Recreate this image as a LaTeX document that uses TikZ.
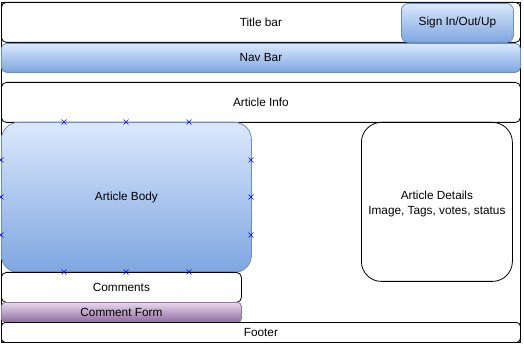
\documentclass[tikz,border=0pt]{standalone}
\usepackage{fontspec}
\setmainfont{Liberation Sans}
\usetikzlibrary{shapes.misc}
\definecolor{blueTop}{HTML}{DAE8FC}
\definecolor{blueBot}{HTML}{7EA6E0}
\definecolor{blueLine}{HTML}{6C8EBF}
\definecolor{purpTop}{HTML}{E6D8EC}
\definecolor{purpBot}{HTML}{8F6AA0}
\definecolor{purpLine}{HTML}{9673A6}
\definecolor{markBlue}{HTML}{0000FF}
\tikzset{
  box/.style={draw=black, line width=0.8pt, fill=white, rectangle,
    anchor=north west, inner sep=0pt, font=\fontsize{11.8}{14}\selectfont, align=center},
  bluebox/.style={box, draw=blueLine, top color=blueTop, bottom color=blueBot},
  purplebox/.style={box, draw=purpLine, top color=purpTop, bottom color=purpBot},
  caption/.style={inner sep=0pt, font=\fontsize{11.8}{15}\selectfont, align=center},
  handle/.style={cross out, draw=markBlue, line width=0.5pt, minimum size=4.5pt, inner sep=0pt}
}
\begin{document}
\begin{tikzpicture}[x=1pt, y=-1pt]
  \useasboundingbox (0,0) rectangle (524,344);
  % page frame
  \draw[line width=0.8pt] (1,2) rectangle (520,342);
  % header
  \node[box, rounded corners=5pt, minimum width=519pt, minimum height=40pt] (title) at (1,2) {Title bar};
  \node[bluebox, rounded corners=7pt, minimum width=112pt, minimum height=39pt] (sign) at (401,3) {Sign In/Out/Up};
  \node[bluebox, rounded corners=5pt, minimum width=519pt, minimum height=29pt] (nav) at (1,43) {Nav Bar};
  \node[box, rounded corners=5pt, minimum width=519pt, minimum height=40pt] (info) at (1,82) {Article Info};
  % content
  \node[bluebox, rounded corners=17pt, minimum width=250pt, minimum height=150pt] (body) at (1,122) {Article Body};
  \node[box, rounded corners=20pt, minimum width=151pt, minimum height=159pt] (details) at (361,122) {};
  \node[caption] (detailsText) at ([yshift=-2pt]details.center) {Article Details\\Image, Tags, votes, status};
  \node[box, rounded corners=5pt, minimum width=240pt, minimum height=30pt] (comments) at (1,272) {Comments};
  \node[purplebox, rounded corners=4pt, minimum width=240pt, minimum height=20pt] (form) at (1,302) {Comment Form};
  \node[box, rounded corners=4pt, minimum width=519pt, minimum height=20pt] (footer) at (1,322) {Footer};
  % connection handles around the article body
  \foreach \px [count=\i] in {64,126,189} {
    \node[handle] (ht\i) at (\px,122) {};
    \node[handle] (hb\i) at (\px,272) {};
  }
  \foreach \py [count=\i] in {160,197,235} {
    \node[handle] (hl\i) at (1,\py) {};
    \node[handle] (hr\i) at (251,\py) {};
  }
\end{tikzpicture}
\end{document}
